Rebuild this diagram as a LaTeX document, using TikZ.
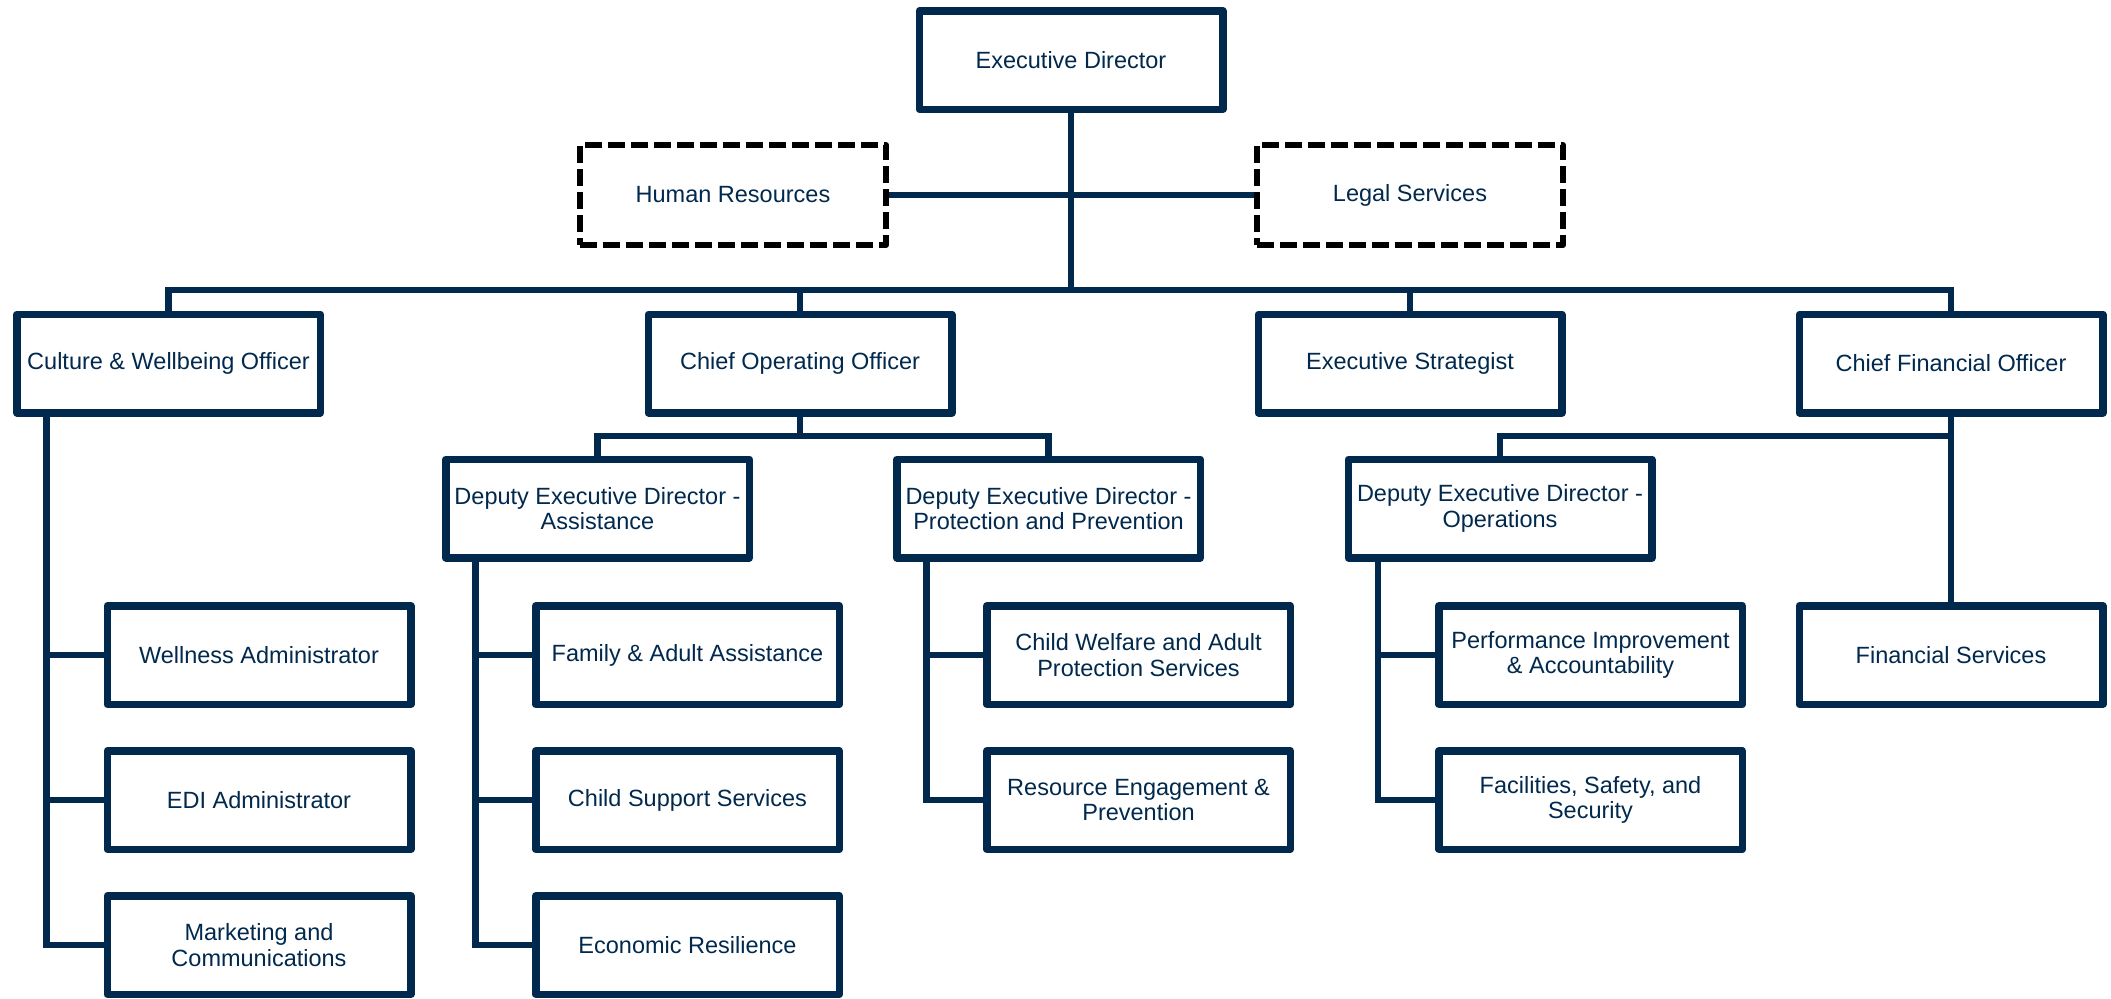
\documentclass[tikz,border=0pt]{standalone}
\usepackage{fontspec}
\setmainfont{Liberation Sans}
\definecolor{navy}{RGB}{0,41,77}
\begin{document}
\begin{tikzpicture}[x=0.5pt,y=-0.5pt,
		unit/.style={draw=navy,line width=3.75pt,line join=round,fill=white,text=navy,align=center,
			minimum width=151.75pt,minimum height=49.25pt,inner sep=2pt,font=\fontsize{11.75}{12.6}\selectfont},
		staff/.style={unit,draw=black,line width=3pt,dash pattern=on 8.5pt off 3pt,minimum width=153pt,minimum height=50pt},
		link/.style={draw=navy,line width=3.25pt}]
		% Fixes the page to the size of the chart
		\fill [white] (0,0) rectangle (2111,998);
		\useasboundingbox (0,0) rectangle (2111,998);
		% Top of the chart and the two staff offices
		\node [unit] (exec) at (1071,60) {Executive Director};
		\node [staff] (hr) at (733,195) {Human Resources};
		\node [staff] (legal) at (1410,195) {Legal Services};
		% Second row
		\node [unit] (culture) at (168.5,363.5) {Culture \& Wellbeing Officer};
		\node [unit] (coo) at (800,363.5) {Chief Operating Officer};
		\node [unit] (strat) at (1410,363.5) {Executive Strategist};
		\node [unit] (cfo) at (1951,363.5) {Chief Financial Officer};
		% Deputy directors
		\node [unit] (deda) at (597.5,508.5) {Deputy Executive Director -\\Assistance};
		\node [unit] (dedp) at (1048.5,508.5) {Deputy Executive Director -\\Protection and Prevention};
		\node [unit] (dedo) at (1500,508.5) {Deputy Executive Director -\\Operations};
		% Units under each branch
		\node [unit] (wellness) at (259,655) {Wellness Administrator};
		\node [unit] (edi) at (259,800) {EDI Administrator};
		\node [unit] (marketing) at (259,945) {Marketing and\\Communications};
		\node [unit] (family) at (687.5,655) {Family \& Adult Assistance};
		\node [unit] (childsup) at (687.5,800) {Child Support Services};
		\node [unit] (econ) at (687.5,945) {Economic Resilience};
		\node [unit] (welfare) at (1138.5,655) {Child Welfare and Adult\\Protection Services};
		\node [unit] (resource) at (1138.5,800) {Resource Engagement \&\\Prevention};
		\node [unit] (perf) at (1590.5,655) {Performance Improvement\\\& Accountability};
		\node [unit] (facil) at (1590.5,800) {Facilities, Safety, and\\Security};
		\node [unit] (finserv) at (1951,655) {Financial Services};
		% Bus points where the lines split
		\coordinate (bus) at (1071,290);
		\coordinate (coobus) at (800,436);
		\coordinate (cfobus) at (1951,436);
		% Lines from the Executive Director
		\draw [link] (exec.south) -- (bus);
		\draw [link] (hr.east) -- (legal.west);
		\draw [link] (culture.north) |- (bus) -| (cfo.north);
		\draw [link] (coo.north) -- (coo.north |- bus);
		\draw [link] (strat.north) -- (strat.north |- bus);
		% Lines to the deputies
		\draw [link] (coo.south) -- (coobus);
		\draw [link] (deda.north) |- (coobus) -| (dedp.north);
		\draw [link] (cfo.south) -- (finserv.north);
		\draw [link] (dedo.north) |- (cfobus);
		% Side lines down to each unit
		\foreach \boss/\kids in {culture/{wellness,edi,marketing},deda/{family,childsup,econ},dedp/{welfare,resource},dedo/{perf,facil}}
			\foreach \kid in \kids
				\draw [link] (\boss.south west) ++(33.5,0) |- (\kid.west);
\end{tikzpicture}
\end{document}
